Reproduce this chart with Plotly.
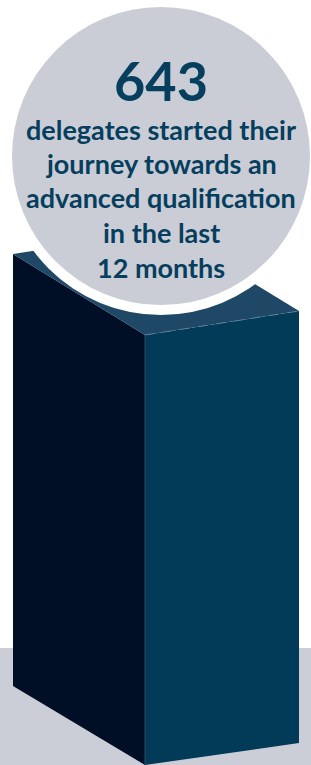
import plotly.graph_objects as go

# ---- data ----
value = 643
label_lines = ["delegates started their", "journey towards an",
               "advanced qualification", "in the last", "12 months"]

# ---- styling / geometry (pixel coordinates of the 311x765 canvas) ----
W, H = 311, 765
TEXT_COLOR = "#063f5e"
CIRCLE_COLOR = "#cbcdd6"
BAND_COLOR = "#cbced6"
LEFT_FACE = "#000f26"
RIGHT_FACE = "#023b58"
TOP_FACE = "#1f4766"

fig = go.Figure()

def path(points):
    return "M " + " L ".join(f"{x},{y}" for x, y in points) + " Z"

shapes = []
# grey floor band
shapes.append(dict(type="rect", x0=0, x1=W, y0=648, y1=H, fillcolor=BAND_COLOR,
                   line=dict(width=0), layer="above"))
# box faces
shapes.append(dict(type="path", path=path([(13, 254), (145, 335), (145, 765), (13, 686)]),
                   fillcolor=LEFT_FACE, line=dict(width=0), layer="above"))
shapes.append(dict(type="path", path=path([(145, 335), (299, 311), (299, 743), (145, 765)]),
                   fillcolor=RIGHT_FACE, line=dict(width=0), layer="above"))
shapes.append(dict(type="path", path=path([(13, 254), (145, 335), (299, 311), (167, 230)]),
                   fillcolor=TOP_FACE, line=dict(width=0), layer="above"))
shapes.append(dict(type="line", x0=145, y0=335, x1=299, y1=311,
                   line=dict(color="#5b7f99", width=1, dash="dash"), layer="above"))
shapes.append(dict(type="line", x0=145, y0=335, x1=145, y1=765,
                   line=dict(color="#2c4d66", width=1), layer="above"))
# circle with white ring
cx, cy, r, ring = 161, 156, 149, 10
shapes.append(dict(type="circle", x0=cx - r - ring, x1=cx + r + ring,
                   y0=cy - r - ring, y1=cy + r + ring,
                   fillcolor="white", line=dict(width=0), layer="above"))
shapes.append(dict(type="circle", x0=cx - r, x1=cx + r, y0=cy - r, y1=cy + r,
                   fillcolor=CIRCLE_COLOR, line=dict(width=0), layer="above"))

annotations = [dict(x=cx, y=80, text=f"<b>{value}</b>", showarrow=False,
                    xanchor="center", yanchor="middle",
                    font=dict(family="Lato", size=54, color=TEXT_COLOR))]
line_y = [129, 163, 197, 232, 267]
for t, y in zip(label_lines, line_y):
    annotations.append(dict(x=cx, y=y, text=f"<b>{t}</b>", showarrow=False,
                            xanchor="center", yanchor="middle",
                            font=dict(family="Lato", size=27, color=TEXT_COLOR)))

fig.update_layout(
    width=W, height=H, margin=dict(l=0, r=0, t=0, b=0),
    paper_bgcolor="white", plot_bgcolor="white",
    xaxis=dict(range=[0, W], visible=False, fixedrange=True),
    yaxis=dict(range=[H, 0], visible=False, fixedrange=True),
    shapes=shapes, annotations=annotations, showlegend=False,
)

fig.write_html("out.html", config={"displayModeBar": False},
               post_script="document.body.style.margin='0';document.body.style.overflow='hidden';")
